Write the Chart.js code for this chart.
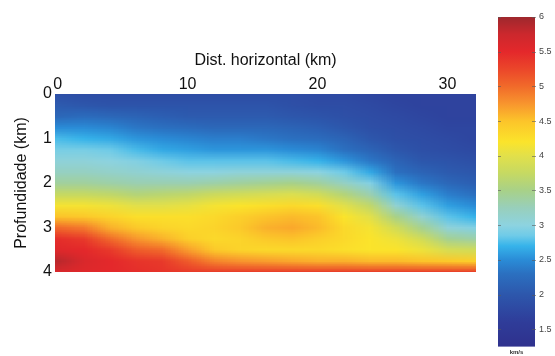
<!DOCTYPE html>
<html>
<head>
<meta charset="utf-8">
<script src="https://cdn.jsdelivr.net/npm/chart.js@4.4.1/dist/chart.umd.min.js"></script>
<style>
    body { margin: 0; background: #fff; }
    #wrap { position: relative; width: 555px; height: 356px; }
    #main { position: absolute; left: 0; top: 0; }
    #bar { position: absolute; left: 480px; top: 0; }
</style>
</head>
<body>
<div id="wrap">
    <canvas id="main" width="480" height="356"></canvas>
    <canvas id="bar" width="75" height="356"></canvas>
</div>
<script>
// grid nodes of the velocity model
const distKm = [0, 2, 4, 6, 8, 10, 12, 14, 16, 18, 20, 22, 24, 26, 28, 30, 32];
const depthKm = [0, 0.25, 0.5, 0.75, 1, 1.25, 1.5, 1.75, 2, 2.25, 2.5, 2.75, 3, 3.25, 3.5, 3.75, 4];

// velocity (km/s): one column per distance in distKm, values going down depthKm
const velocity = [
    [1.9, 2.05, 2.2, 2.5, 2.75, 2.9, 3.05, 3.2, 3.4, 3.75, 4.15, 4.5, 5.0, 5.45, 5.55, 5.85, 5.6],
    [1.85, 2.0, 2.25, 2.5, 2.7, 2.9, 3.05, 3.2, 3.4, 3.75, 4.15, 4.45, 4.9, 5.35, 5.5, 5.6, 5.55],
    [1.85, 1.95, 2.2, 2.45, 2.65, 2.85, 3.0, 3.15, 3.35, 3.7, 4.1, 4.35, 4.6, 5.0, 5.35, 5.5, 5.5],
    [1.85, 1.95, 2.15, 2.35, 2.55, 2.75, 2.95, 3.1, 3.3, 3.6, 4.0, 4.25, 4.45, 4.75, 5.1, 5.4, 5.45],
    [1.85, 1.95, 2.1, 2.3, 2.5, 2.65, 2.85, 3.05, 3.3, 3.65, 4.0, 4.25, 4.35, 4.6, 5.0, 5.35, 5.4],
    [1.85, 1.95, 2.05, 2.25, 2.45, 2.6, 2.8, 3.0, 3.3, 3.7, 4.05, 4.25, 4.3, 4.4, 4.7, 5.1, 5.35],
    [1.85, 1.95, 2.05, 2.2, 2.4, 2.55, 2.8, 3.0, 3.35, 3.8, 4.15, 4.3, 4.35, 4.3, 4.45, 4.85, 5.35],
    [1.85, 1.95, 2.05, 2.2, 2.4, 2.55, 2.8, 3.05, 3.4, 3.85, 4.2, 4.4, 4.45, 4.35, 4.35, 4.75, 5.35],
    [1.85, 1.95, 2.05, 2.2, 2.35, 2.55, 2.8, 3.05, 3.45, 3.9, 4.25, 4.5, 4.6, 4.45, 4.3, 4.7, 5.35],
    [1.85, 1.9, 2.0, 2.15, 2.3, 2.5, 2.75, 3.05, 3.5, 3.95, 4.3, 4.55, 4.65, 4.5, 4.3, 4.65, 5.35],
    [1.8, 1.85, 1.95, 2.1, 2.25, 2.45, 2.7, 3.0, 3.4, 3.85, 4.25, 4.5, 4.55, 4.4, 4.3, 4.6, 5.35],
    [1.8, 1.85, 1.9, 2.0, 2.15, 2.3, 2.55, 2.85, 3.2, 3.6, 4.0, 4.2, 4.3, 4.3, 4.25, 4.6, 5.35],
    [1.75, 1.8, 1.85, 1.9, 2.0, 2.15, 2.35, 2.65, 2.95, 3.3, 3.7, 4.0, 4.15, 4.2, 4.2, 4.55, 5.35],
    [1.7, 1.75, 1.8, 1.85, 1.9, 2.0, 2.15, 2.3, 2.55, 2.8, 3.1, 3.5, 3.85, 4.1, 4.2, 4.55, 5.35],
    [1.7, 1.7, 1.75, 1.8, 1.85, 1.9, 2.0, 2.15, 2.35, 2.6, 2.8, 3.1, 3.45, 3.85, 4.1, 4.5, 5.35],
    [1.7, 1.7, 1.7, 1.75, 1.8, 1.85, 1.95, 2.05, 2.2, 2.4, 2.6, 2.8, 3.05, 3.45, 3.9, 4.45, 5.35],
    [1.7, 1.7, 1.7, 1.75, 1.75, 1.8, 1.9, 2.0, 2.1, 2.3, 2.5, 2.7, 2.95, 3.35, 3.85, 4.4, 5.35]
];

const distTicks = [0, 10, 20, 30];
const depthTicks = [0, 1, 2, 3, 4];
const colorbarTicks = [1.5, 2, 2.5, 3, 3.5, 4, 4.5, 5, 5.5, 6];

// colour map, value -> colour
const colorStops = [
    [1.25, '#2f318d'], [1.6, '#2f3c99'], [2.0, '#2d57ac'], [2.3, '#2b70c0'],
    [2.5, '#2a8cd7'], [2.7, '#36b3ea'], [2.85, '#6fcbe8'], [3.0, '#8dd3e0'],
    [3.25, '#98cfbb'], [3.5, '#a8d188'], [3.75, '#c6d962'], [4.0, '#e2e04a'],
    [4.2, '#fbe42b'], [4.5, '#fcc42a'], [4.75, '#f8952e'], [5.0, '#f16a2a'],
    [5.25, '#eb462a'], [5.5, '#e4282b'], [5.75, '#cc282d'], [6.0, '#9e282d']
];

const fontFamily = "'Liberation Sans', Arial, sans-serif";
const axisFont = { family: fontFamily, size: 16 };

function hexToRgb(h) {
    return [parseInt(h.slice(1, 3), 16), parseInt(h.slice(3, 5), 16), parseInt(h.slice(5, 7), 16)];
}

function colorFor(v) {
    if (v <= colorStops[0][0]) return hexToRgb(colorStops[0][1]);
    for (let i = 1; i < colorStops.length; i++) {
        if (v <= colorStops[i][0]) {
            const [v0, c0] = colorStops[i - 1];
            const [v1, c1] = colorStops[i];
            const t = (v - v0) / (v1 - v0);
            const a = hexToRgb(c0), b = hexToRgb(c1);
            return a.map((ch, k) => Math.round(ch + (b[k] - ch) * t));
        }
    }
    return hexToRgb(colorStops[colorStops.length - 1][1]);
}

// one point per grid node; the plugin paints the colours at the positions the scales give
const points = [];
distKm.forEach((x, i) => {
    depthKm.forEach((y, j) => {
        points.push({ x: x, y: y, v: velocity[i][j] });
    });
});

const heatmapPlugin = {
    id: 'heatmap',
    beforeDatasetsDraw(chart) {
        const meta = chart.getDatasetMeta(0);
        const nx = distKm.length, ny = depthKm.length;
        const off = document.createElement('canvas');
        off.width = nx;
        off.height = ny;
        const octx = off.getContext('2d');
        const img = octx.createImageData(nx, ny);
        points.forEach((p, k) => {
            const i = Math.floor(k / ny), j = k % ny;
            const c = colorFor(p.v);
            const idx = (j * nx + i) * 4;
            img.data[idx] = c[0];
            img.data[idx + 1] = c[1];
            img.data[idx + 2] = c[2];
            img.data[idx + 3] = 255;
        });
        octx.putImageData(img, 0, 0);

        const first = meta.data[0];
        const dx = meta.data[ny].x - first.x;
        const dy = meta.data[1].y - first.y;
        const area = chart.chartArea;
        const ctx = chart.ctx;
        ctx.save();
        ctx.beginPath();
        ctx.rect(area.left, area.top, area.right - area.left, area.bottom - area.top);
        ctx.clip();
        ctx.imageSmoothingEnabled = true;
        ctx.imageSmoothingQuality = 'low';
        ctx.drawImage(off, first.x - dx / 2, first.y - dy / 2, nx * dx, ny * dy);
        ctx.restore();
    }
};

new Chart(document.getElementById('main'), {
    type: 'scatter',
    data: {
        datasets: [{ data: points, pointRadius: 0, pointHoverRadius: 0 }]
    },
    options: {
        responsive: false,
        animation: false,
        events: [],
        layout: { padding: { left: 0, top: 0, right: 4, bottom: 84 } },
        plugins: { legend: { display: false }, tooltip: { enabled: false } },
        scales: {
            x: {
                type: 'linear',
                position: 'top',
                min: -0.2,
                max: 32.2,
                afterBuildTicks: s => { s.ticks = distTicks.map(v => ({ value: v })); },
                afterFit: s => { s.height = 94; },
                grid: { display: false, drawTicks: false },
                border: { display: false },
                ticks: { color: '#111', font: axisFont, padding: 0, maxRotation: 0, autoSkip: false },
                title: {
                    display: true,
                    text: 'Dist. horizontal (km)',
                    color: '#111',
                    font: axisFont,
                    padding: { top: 51, bottom: 0 }
                }
            },
            y: {
                type: 'linear',
                reverse: true,
                min: 0,
                max: 4,
                afterBuildTicks: s => { s.ticks = depthTicks.map(v => ({ value: v })); },
                afterFit: s => { s.width = 55; },
                grid: { display: false, drawTicks: false },
                border: { display: false },
                ticks: { color: '#111', font: axisFont, padding: 3, autoSkip: false },
                title: {
                    display: true,
                    text: 'Profundidade (km)',
                    color: '#111',
                    font: axisFont,
                    padding: { top: 12, bottom: 0 }
                }
            }
        }
    },
    plugins: [heatmapPlugin]
});

const colorbarPlugin = {
    id: 'colorbar',
    beforeDatasetsDraw(chart) {
        const ctx = chart.ctx;
        const area = chart.chartArea;
        const y = chart.scales.y;
        const lo = colorStops[0][0], hi = colorStops[colorStops.length - 1][0];
        const grad = ctx.createLinearGradient(0, y.getPixelForValue(lo), 0, y.getPixelForValue(hi));
        colorStops.forEach(([v, c]) => grad.addColorStop((v - lo) / (hi - lo), c));
        ctx.save();
        ctx.fillStyle = grad;
        ctx.fillRect(area.left, area.top, area.right - area.left, area.bottom - area.top);
        ctx.strokeStyle = 'rgba(90,90,90,0.6)';
        ctx.lineWidth = 1;
        colorbarTicks.forEach(v => {
            const py = Math.round(y.getPixelForValue(v)) + 0.5;
            ctx.beginPath();
            ctx.moveTo(area.left, py);
            ctx.lineTo(area.left + 3, py);
            ctx.moveTo(area.right - 3, py);
            ctx.lineTo(area.right + 1, py);
            ctx.stroke();
        });
        ctx.restore();
    }
};

new Chart(document.getElementById('bar'), {
    type: 'scatter',
    data: { datasets: [] },
    options: {
        responsive: false,
        animation: false,
        events: [],
        layout: { padding: { left: 18, top: 17, right: 0, bottom: 0 } },
        plugins: { legend: { display: false }, tooltip: { enabled: false } },
        scales: {
            x: {
                type: 'linear',
                min: 0,
                max: 1,
                position: 'bottom',
                afterFit: s => { s.height = 9; },
                grid: { display: false, drawTicks: false },
                border: { display: false },
                ticks: { display: false },
                title: {
                    display: true,
                    text: 'km/s',
                    color: '#333',
                    font: { family: fontFamily, size: 6, weight: 'bold' },
                    padding: 0
                }
            },
            y: {
                type: 'linear',
                position: 'right',
                min: 1.25,
                max: 6,
                afterBuildTicks: s => { s.ticks = colorbarTicks.map(v => ({ value: v })); },
                afterFit: s => { s.width = 20; },
                grid: { display: false, drawTicks: false },
                border: { display: false },
                ticks: {
                    color: '#444',
                    font: { family: fontFamily, size: 9 },
                    padding: 4,
                    autoSkip: false,
                    callback: v => String(v)
                }
            }
        }
    },
    plugins: [colorbarPlugin]
});
</script>
</body>
</html>
